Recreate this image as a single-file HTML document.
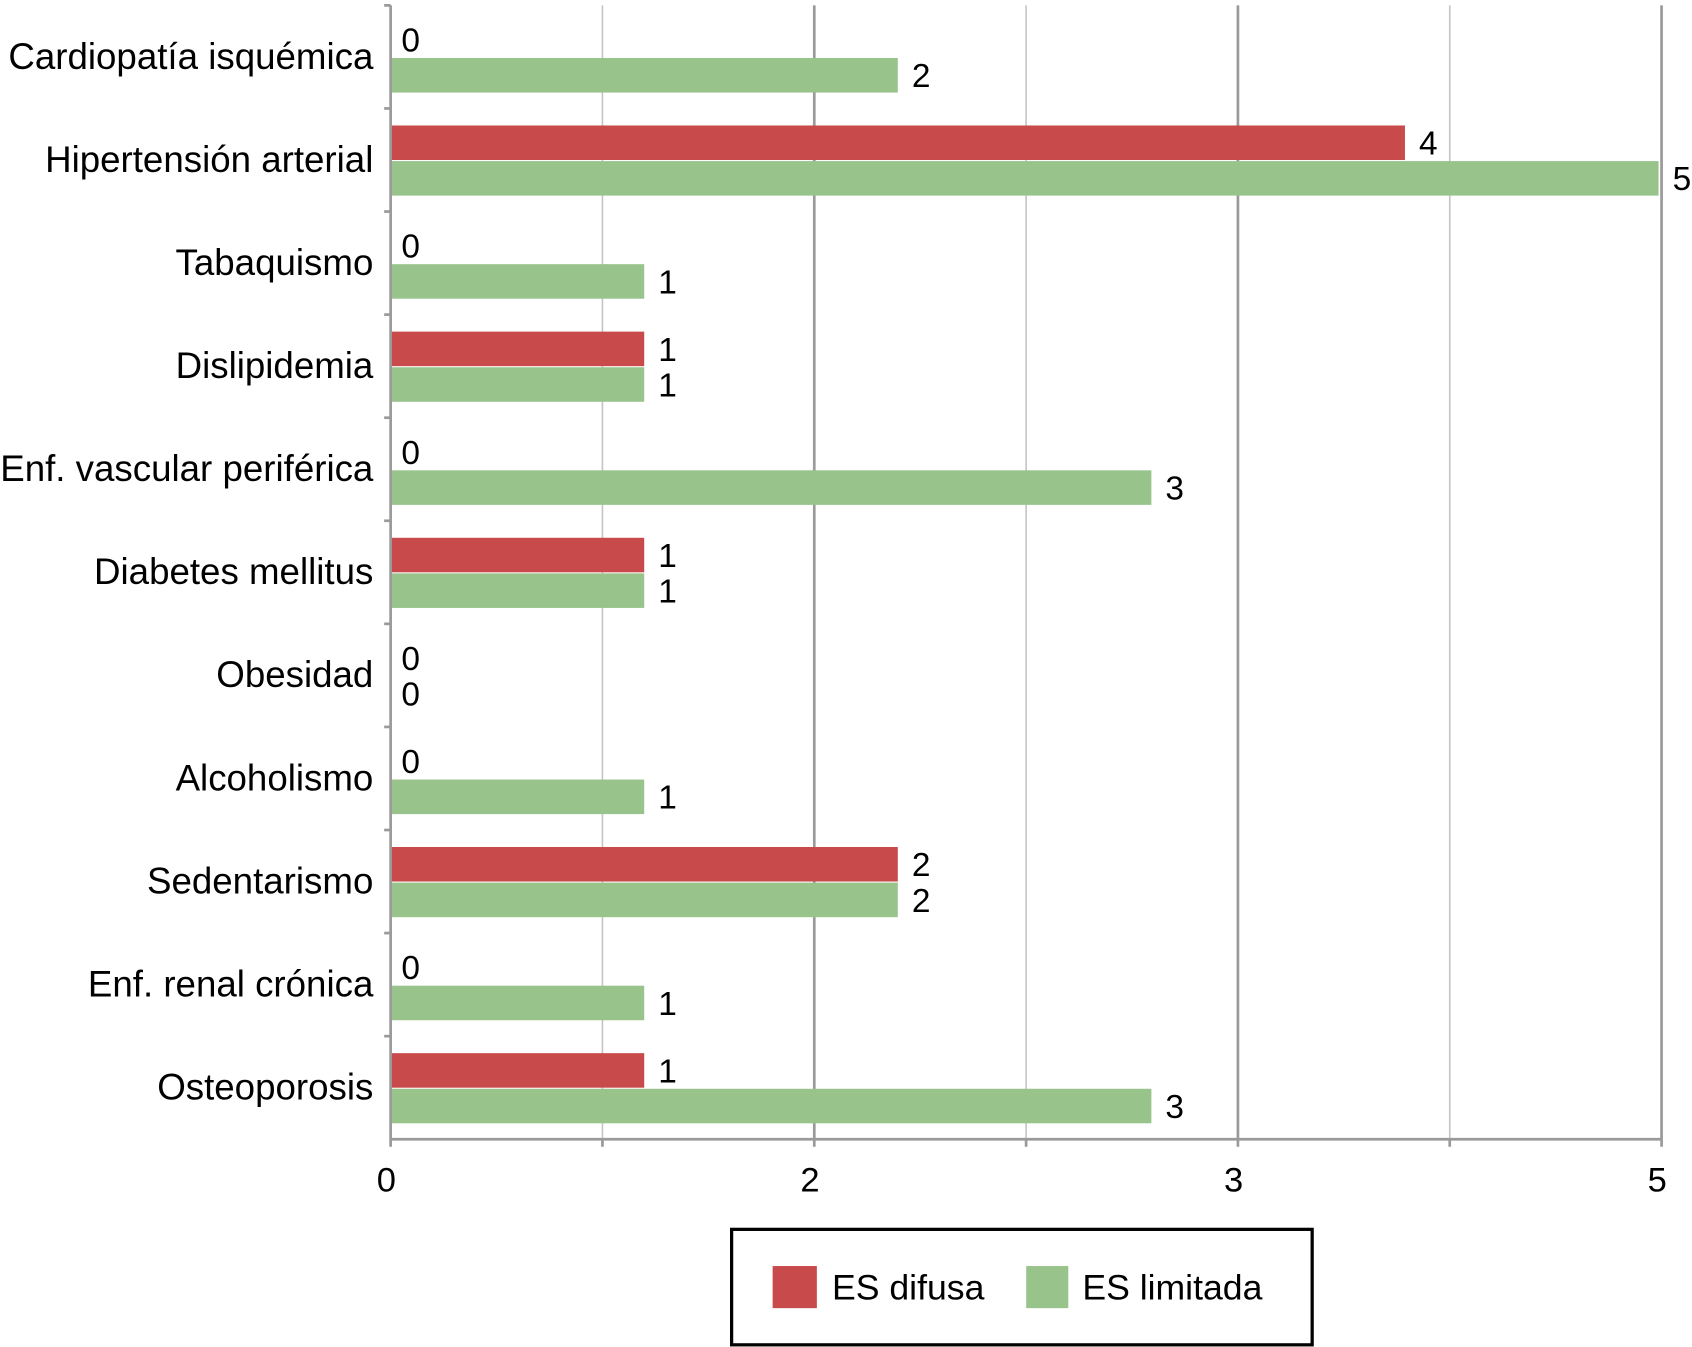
<!DOCTYPE html>
<html><head><meta charset="utf-8"><style>
html,body{margin:0;padding:0;background:#fff;}
svg{display:block;font-family:"Liberation Sans",Arial,sans-serif;}
</style></head><body>
<svg id="chart" width="1692" height="1347" viewBox="0 0 1568 1248" preserveAspectRatio="none" xmlns="http://www.w3.org/2000/svg">
<g id="grid"></g>
<g id="bars"></g>
<g id="axes"></g>
<g id="legend">
<rect x="678" y="1139" width="538" height="107" fill="#fff" stroke="#000" stroke-width="3"/>
<rect x="716" y="1173" width="41" height="39" fill="#c84a4a"/>
<text x="771" y="1204" font-size="33">ES difusa</text>
<rect x="951" y="1173" width="39" height="39" fill="#98c38b"/>
<text x="1003" y="1204" font-size="33">ES limitada</text>
</g>
</svg>
<script>
const categories = ["Cardiopatía isquémica","Hipertensión arterial","Tabaquismo","Dislipidemia","Enf. vascular periférica","Diabetes mellitus","Obesidad","Alcoholismo","Sedentarismo","Enf. renal crónica","Osteoporosis"];
const difusa = [0,4,0,1,0,1,0,0,2,0,1];
const limitada = [2,5,1,1,3,1,0,1,2,1,3];
const tickLabels = ["0","","2","","3","","5"];

const NS="http://www.w3.org/2000/svg";
const x0=362, unit=235, plotTop=5, band=95.5, barH=32;
const xScale=v=>x0+v*unit;
const yBand=i=>plotTop+i*band;
const gridX=i=>362+i*196.3;
const plotBottom=yBand(categories.length);
function mk(tag,attrs,parent,txt){const e=document.createElementNS(NS,tag);for(const k in attrs)e.setAttribute(k,attrs[k]);if(txt!==undefined)e.textContent=txt;parent.appendChild(e);return e;}
const gridG=document.getElementById('grid'), barsG=document.getElementById('bars'), axesG=document.getElementById('axes');
tickLabels.forEach((t,i)=>{
  if(i>0){const g=mk('line',{x1:gridX(i),x2:gridX(i),y1:plotTop,y2:plotBottom,stroke:i%2?'#c4c4c4':'#9a9a9a','stroke-width':i%2?1.5:2.5},gridG);
  
  }
  const tk=mk('line',{x1:gridX(i),x2:gridX(i),y1:plotBottom,y2:plotBottom+7,stroke:'#9a9a9a','stroke-width':2.5},axesG);
  
  
  if(t){const l=mk('text',{x:gridX(i)-4,y:1104,'font-size':32,'text-anchor':'middle'},axesG,t);
  
  }
});
categories.forEach((c,i)=>{
  const yb=yBand(i), yr=yb+(band-2*barH)/2;
  [[difusa[i],yr,'#c84a4a','bar-difusa'],[limitada[i],yr+barH+1,'#98c38b','bar-limitada']].forEach(([v,y,col,nm])=>{
    if(v>0){const r=mk('rect',{x:x0,y:y,width:xScale(v)-x0,height:barH,fill:col},barsG);
    
    }
    const t=mk('text',{x:xScale(v)+(v?13:10),y:y+barH/2+11,'font-size':31},barsG,String(v));
    
    
  });
  const l=mk('text',{x:346,y:yb+band/2+11,'font-size':34,'text-anchor':'end'},axesG,c);
  
  
  const tk=mk('line',{x1:356,x2:362,y1:yb,y2:yb,stroke:'#9a9a9a','stroke-width':2.5},axesG);
  
  
});
const ya=mk('line',{x1:x0,x2:x0,y1:plotTop,y2:plotBottom,stroke:'#9a9a9a','stroke-width':2.5},axesG);


const xa=mk('line',{x1:x0,x2:gridX(6),y1:plotBottom,y2:plotBottom,stroke:'#9a9a9a','stroke-width':2.5},axesG);


</script>
</body></html>
